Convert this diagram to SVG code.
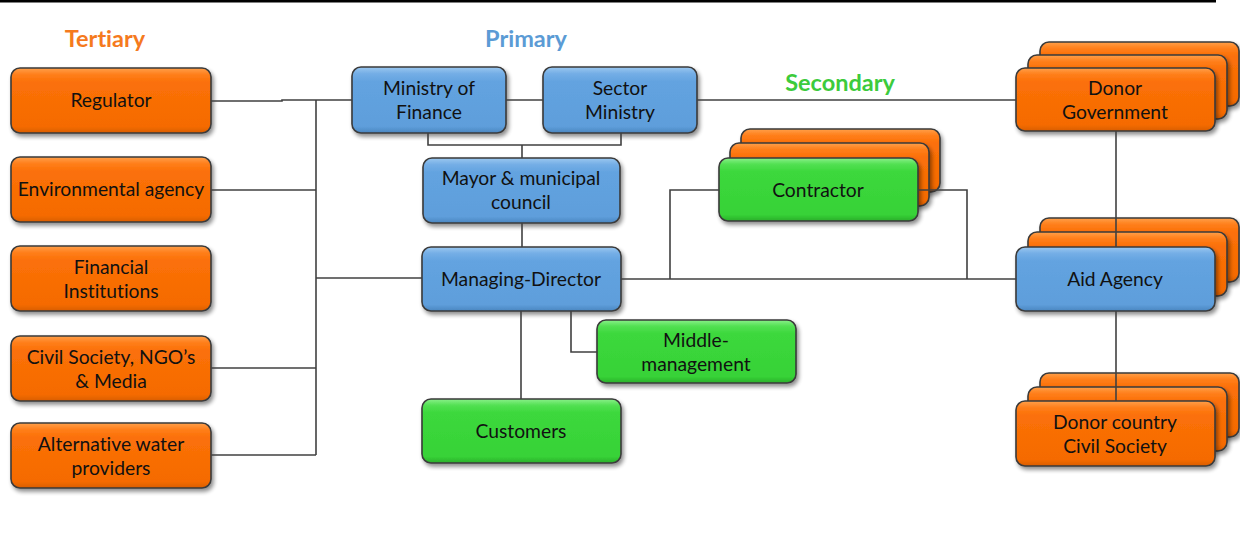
<svg xmlns="http://www.w3.org/2000/svg" width="1240" height="536" viewBox="0 0 1240 536">
<defs>
<linearGradient id="gO" x1="0" y1="0" x2="0" y2="1">
<stop offset="0" stop-color="#FFA04A"/><stop offset="0.1" stop-color="#FF7F1A"/><stop offset="0.22" stop-color="#FB7008"/><stop offset="0.9" stop-color="#F56B02"/><stop offset="1" stop-color="#D95E00"/>
</linearGradient>
<linearGradient id="gB" x1="0" y1="0" x2="0" y2="1">
<stop offset="0" stop-color="#9CC8F0"/><stop offset="0.1" stop-color="#74AEE6"/><stop offset="0.22" stop-color="#63A3E0"/><stop offset="0.9" stop-color="#5E9EDB"/><stop offset="1" stop-color="#4A86C0"/>
</linearGradient>
<linearGradient id="gG" x1="0" y1="0" x2="0" y2="1">
<stop offset="0" stop-color="#8AF08A"/><stop offset="0.1" stop-color="#52E052"/><stop offset="0.22" stop-color="#3CD83C"/><stop offset="0.9" stop-color="#37D237"/><stop offset="1" stop-color="#2AAE2A"/>
</linearGradient>
<filter id="sh" x="-10%" y="-10%" width="125%" height="140%">
<feGaussianBlur in="SourceAlpha" stdDeviation="2"/>
<feOffset dx="2" dy="3" result="b"/>
<feComponentTransfer><feFuncA type="linear" slope="0.45"/></feComponentTransfer>
<feMerge><feMergeNode/><feMergeNode in="SourceGraphic"/></feMerge>
</filter>
</defs>
<style>
.n{stroke:#3A3A3A;stroke-width:1.6;filter:url(#sh)}
.o{fill:url(#gO)}
.b{fill:url(#gB)}
.g{fill:url(#gG)}
.t{font-family:Lato,"Liberation Sans",sans-serif;font-size:19.3px;fill:#111;text-anchor:middle;font-variant-ligatures:none}
.h{font-family:Lato,"Liberation Sans",sans-serif;font-size:23.5px;font-weight:bold;text-anchor:middle;font-variant-ligatures:none}
.c{fill:none;stroke:#404040;stroke-width:1.6}
</style>
<rect x="0" y="0" width="1216" height="2.5" fill="#000"/>
<text class="h" x="105" y="47" fill="#F57A1E">Tertiary</text>
<text class="h" x="526" y="47" fill="#5B9BD5">Primary</text>
<text class="h" x="840" y="91" fill="#3CCB3C">Secondary</text>

<g id="regulator"><rect class="n o" x="11" y="68" width="200" height="65" rx="9"/><text class="t" x="111" y="107">Regulator</text></g>
<g id="environmental-agency"><rect class="n o" x="11" y="157" width="200" height="65" rx="9"/><text class="t" x="111" y="196">Environmental agency</text></g>
<g id="financial-institutions"><rect class="n o" x="11" y="246" width="200" height="65" rx="9"/><text class="t" x="111" y="274">Financial</text><text class="t" x="111" y="298">Institutions</text></g>
<g id="civil-society"><rect class="n o" x="11" y="336" width="200" height="65" rx="9"/><text class="t" x="111" y="364">Civil Society, NGO’s</text><text class="t" x="111" y="388">&amp; Media</text></g>
<g id="alternative-water"><rect class="n o" x="11" y="423" width="200" height="65" rx="9"/><text class="t" x="111" y="451">Alternative water</text><text class="t" x="111" y="475">providers</text></g>

<g id="ministry-of-finance"><rect class="n b" x="352" y="67" width="154" height="66" rx="9"/><text class="t" x="429" y="95">Ministry of</text><text class="t" x="429" y="119">Finance</text></g>
<g id="sector-ministry"><rect class="n b" x="543" y="67" width="154" height="66" rx="9"/><text class="t" x="620" y="95">Sector</text><text class="t" x="620" y="119">Ministry</text></g>
<g id="mayor"><rect class="n b" x="423" y="158" width="197" height="65" rx="9"/><text class="t" x="521" y="185">Mayor &amp; municipal</text><text class="t" x="521" y="209">council</text></g>
<g id="managing-director"><rect class="n b" x="422" y="247" width="199" height="64" rx="9"/><text class="t" x="521" y="286">Managing-Director</text></g>
<g id="middle-management"><rect class="n g" x="597" y="320" width="199" height="63" rx="9"/><text class="t" x="696" y="347">Middle-</text><text class="t" x="696" y="371">management</text></g>
<g id="customers"><rect class="n g" x="422" y="399" width="199" height="64" rx="9"/><text class="t" x="521" y="438">Customers</text></g>

<g id="contractor">
<rect class="n o" x="741" y="129" width="199" height="63" rx="9"/>
<rect class="n o" x="730" y="143" width="199" height="63" rx="9"/>
<rect class="n g" x="719" y="158" width="199" height="63" rx="9"/>
<text class="t" x="818" y="197">Contractor</text>
</g>
<g id="donor-government">
<rect class="n o" x="1040" y="42" width="199" height="64" rx="9"/>
<rect class="n o" x="1028" y="55" width="199" height="64" rx="9"/>
<rect class="n o" x="1016" y="68" width="199" height="63" rx="9"/>
<text class="t" x="1115" y="95">Donor</text><text class="t" x="1115" y="119">Government</text>
</g>
<g id="aid-agency">
<rect class="n o" x="1040" y="218" width="199" height="64" rx="9"/>
<rect class="n o" x="1028" y="232" width="199" height="64" rx="9"/>
<rect class="n b" x="1016" y="247" width="199" height="64" rx="9"/>
<text class="t" x="1115" y="286">Aid Agency</text>
</g>
<g id="donor-country-civil-society">
<rect class="n o" x="1040" y="373" width="199" height="64" rx="9"/>
<rect class="n o" x="1028" y="387" width="199" height="64" rx="9"/>
<rect class="n o" x="1016" y="401" width="199" height="65" rx="9"/>
<text class="t" x="1115" y="429">Donor country</text><text class="t" x="1115" y="453">Civil Society</text>
</g>

<g id="connectors">
<path class="c" d="M211,101 H282 V100 H352"/>
<path class="c" d="M316,100 V455"/>
<path class="c" d="M211,190 H316"/>
<path class="c" d="M316,278 H422"/>
<path class="c" d="M211,368 H316"/>
<path class="c" d="M211,455 H316"/>
<path class="c" d="M506,100 H543"/>
<path class="c" d="M697,100 H1016"/>
<path class="c" d="M428,133 V145 H621 V133"/>
<path class="c" d="M522,145 V158"/>
<path class="c" d="M522,223 V247"/>
<path class="c" d="M621,279 H1016"/>
<path class="c" d="M670,279 V190 H719"/>
<path class="c" d="M918,190 H967 V279"/>
<path class="c" d="M521,311 V399"/>
<path class="c" d="M571,311 V352 H597"/>
<path class="c" d="M1116,131 V247"/>
<path class="c" d="M1116,311 V401"/>
</g>
</svg>
